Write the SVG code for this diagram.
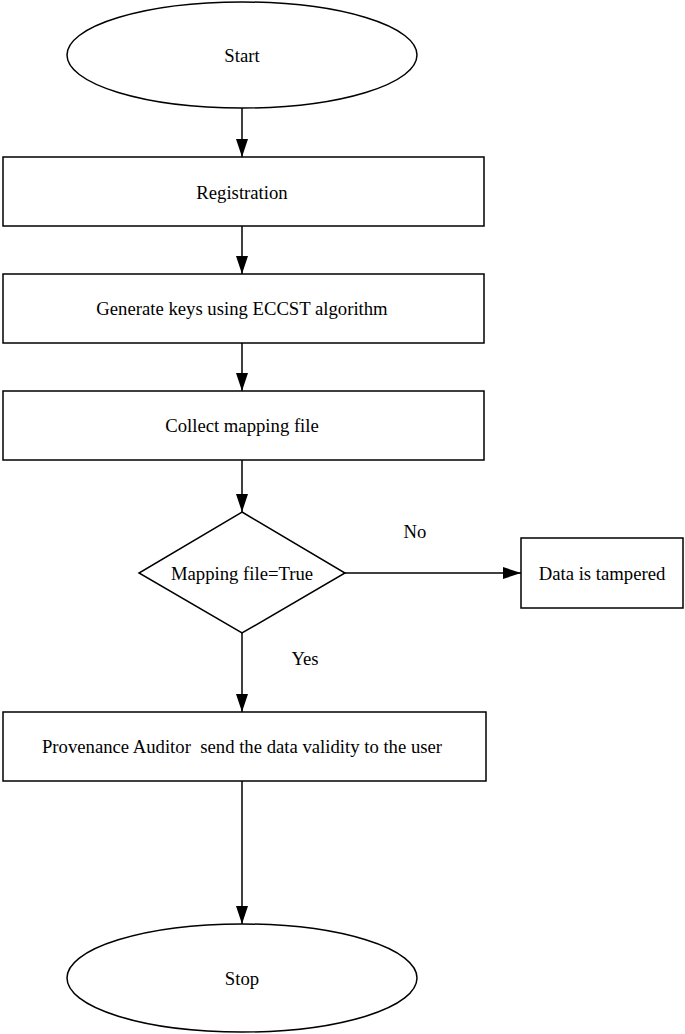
<svg xmlns="http://www.w3.org/2000/svg" width="685" height="1034" viewBox="0 0 685 1034">
<style>
.s{fill:#fff;stroke:#000;stroke-width:1.5}
.t{font-family:"Liberation Serif","Times New Roman",serif;font-size:18.7px;fill:#000;text-anchor:middle;dominant-baseline:central;white-space:pre}
.c{stroke:#000;stroke-width:1.5;fill:none;marker-end:url(#ah)}
</style>
<defs>
<marker id="ah" markerUnits="userSpaceOnUse" markerWidth="20" markerHeight="14" refX="18" refY="6" orient="auto">
<path d="M0,0 L18,6 L0,12 Z" fill="#000"/>
</marker>
</defs>
<rect width="685" height="1034" fill="#fff"/>
<g id="connectors">
<line class="c" x1="242" y1="108" x2="242" y2="157"/>
<line class="c" x1="242" y1="226" x2="242" y2="274"/>
<line class="c" x1="242" y1="343" x2="242" y2="391"/>
<line class="c" x1="242" y1="460" x2="242" y2="512"/>
<line class="c" x1="345" y1="573" x2="521" y2="573"/>
<line class="c" x1="242" y1="633" x2="242" y2="712"/>
<line class="c" x1="242" y1="781" x2="242" y2="924"/>
<text class="t" x="415" y="531">No</text>
<text class="t" x="305" y="658">Yes</text>
</g>
<g id="start">
<ellipse class="s" cx="242" cy="55" rx="175" ry="53"/>
<text class="t" x="242" y="55">Start</text>
</g>
<g id="registration">
<rect class="s" x="3" y="157" width="481" height="69"/>
<text class="t" x="242" y="192">Registration</text>
</g>
<g id="generate">
<rect class="s" x="3" y="274" width="481" height="69"/>
<text class="t" x="242" y="308">Generate keys using ECCST algorithm</text>
</g>
<g id="collect">
<rect class="s" x="3" y="391" width="481" height="69"/>
<text class="t" x="242" y="425">Collect mapping file</text>
</g>
<g id="decision">
<polygon class="s" points="242,512 345,573 242,633 139,573"/>
<text class="t" x="242" y="573">Mapping file=True</text>
</g>
<g id="tampered">
<rect class="s" x="521" y="538" width="162" height="70"/>
<text class="t" x="602" y="573">Data is tampered</text>
</g>
<g id="provenance">
<rect class="s" x="3" y="712" width="483" height="69"/>
<text class="t" x="242" y="746" xml:space="preserve">Provenance Auditor  send the data validity to the user</text>
</g>
<g id="stop">
<ellipse class="s" cx="242" cy="978" rx="175" ry="54"/>
<text class="t" x="242" y="978">Stop</text>
</g>
</svg>
